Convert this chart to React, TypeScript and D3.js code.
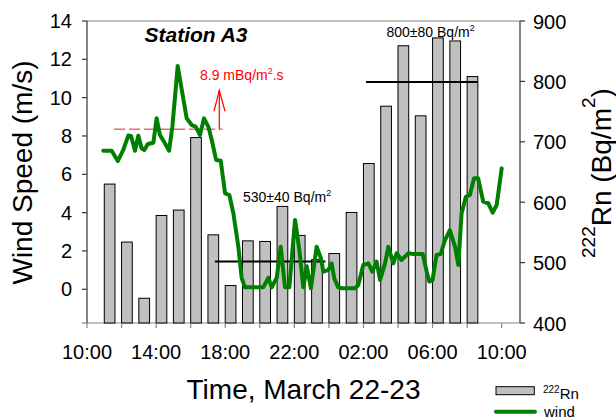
import React from "react";
import * as d3 from "d3";

// ---- data ----
const rnHours = [1, 2, 3, 4, 5, 6, 7, 8, 9, 10, 11, 12, 13, 14, 15, 16, 17, 18, 19, 20, 21, 22];
const rnValues = [630, 534, 441, 578, 587, 707, 546, 462, 536, 535, 593, 545, 505, 515, 583, 664, 759, 859, 743, 872, 867, 808];

const windHours = [
  0.94, 1.43, 1.78, 2.1, 2.39, 2.55, 2.78, 2.97, 3.16, 3.32, 3.51, 3.7, 3.84, 4.03, 4.22, 4.51, 4.75, 4.94,
  5.25, 5.52, 5.77, 6.06, 6.29, 6.54, 6.77, 7.02, 7.22, 7.47, 7.74, 7.99, 8.24, 8.47, 8.76, 8.95, 9.14,
  9.91, 10.2, 10.5, 10.69, 10.98, 11.21, 11.46, 11.71, 12.04, 12.29, 12.52, 12.72, 12.96, 13.29, 13.54,
  13.68, 13.96, 14.16, 14.31, 14.54, 14.78, 15.51, 15.7, 15.99, 16.28, 16.51, 16.76, 16.96, 17.25, 17.44,
  17.73, 17.92, 18.21, 18.6, 18.89, 19.43, 19.66, 19.81, 20.0, 20.23, 20.47, 20.72, 21.0, 21.3, 21.49,
  21.68, 21.93, 22.16, 22.4, 22.64, 22.93, 23.22, 23.48, 23.71, 24.0,
];
const windSpeed = [
  7.23, 7.23, 6.69, 7.27, 8.02, 8.0, 7.23, 8.02, 7.36, 7.27, 7.57, 7.62, 7.65, 8.92, 8.05, 7.62, 7.23, 8.48,
  11.65, 10.23, 8.92, 8.57, 8.49, 8.05, 8.92, 8.49, 7.79, 6.75, 6.71, 5.01, 4.92, 3.97, 2.22, 0.6, 0.1,
  0.1, 0.1, 0.6, 0.1, 0.6, 2.22, 0.1, 0.1, 3.62, 2.05, 0.1, 1.2, 0.05, 2.22, 1.62,
  0.92, 1.0, 1.35, 0.57, 0.1, 0.05, 0.05, 0.22, 1.27, 1.35, 0.92, 1.44, 0.49, 1.35, 2.22,
  1.35, 1.88, 1.53, 1.88, 1.84, 1.84, 0.92, 0.4, 0.49, 1.79, 1.84, 2.57, 3.09, 2.22, 1.27,
  3.97, 4.83, 4.92, 5.79, 5.79, 4.57, 4.49, 4.0, 4.4, 6.31,
];

const xTickHours = [0, 4, 8, 12, 16, 20, 24];
const xTickLabels = ["10:00", "14:00", "18:00", "22:00", "02:00", "06:00", "10:00"];
const xMinorHours = [0, 2, 4, 6, 8, 10, 12, 14, 16, 18, 20, 22, 24];
const windTicks = [0, 2, 4, 6, 8, 10, 12, 14];
const rnTicks = [400, 500, 600, 700, 800, 900];

const baseline530 = { from: 7.4, to: 13.8, value: 502 };
const baseline800 = { from: 16.15, to: 22.6, value: 799 };
const fluxLevel = { from: 1.57, to: 7.84, value: 8.35 };

const FONT = "'Liberation Sans', Arial, Helvetica, sans-serif";

export default function App() {
  const W = 616, H = 418;
  const left = 87, right = 520, top = 21, bottom = 323;
  const x = d3.scaleLinear().domain([0, 25.06]).range([left, right]);
  const yW = d3.scaleLinear().domain([-1.76, 14]).range([bottom, top]);
  const yR = d3.scaleLinear().domain([400, 900]).range([bottom, top]);
  const barW = x(0.62) - x(0);

  const line = d3
    .line<number>()
    .x((_, i) => x(windHours[i]))
    .y((d) => yW(d))
    .curve(d3.curveLinear);

  const axisColor = "#333";
  const frameColor = "#888";

  return (
    <svg width={W} height={H} style={{ display: "block", position: "absolute", left: 0, top: 0 }} fontFamily={FONT}>
      <rect x={0} y={0} width={W} height={H} fill="#fff" />
      {/* frame top / bottom */}
      <line x1={left} x2={right} y1={top} y2={top} stroke={frameColor} strokeWidth={1.2} />
      <line x1={left} x2={right} y1={bottom} y2={bottom} stroke={frameColor} strokeWidth={1.2} />

      {/* bars */}
      {rnHours.map((h, i) => (
        <rect
          key={"b" + i}
          x={x(h)}
          y={yR(rnValues[i])}
          width={barW}
          height={bottom - yR(rnValues[i])}
          fill="#c0c0c0"
          stroke="#000"
          strokeWidth={1}
        />
      ))}

      {/* reference lines */}
      <line x1={x(baseline530.from)} x2={x(baseline530.to)} y1={yR(baseline530.value)} y2={yR(baseline530.value)} stroke="#000" strokeWidth={2} />
      <line x1={x(baseline800.from)} x2={x(baseline800.to)} y1={yR(baseline800.value)} y2={yR(baseline800.value)} stroke="#000" strokeWidth={2} />
      <line x1={x(fluxLevel.from)} x2={x(fluxLevel.to)} y1={yW(fluxLevel.value)} y2={yW(fluxLevel.value)} stroke="#f26b6b" strokeWidth={1.5} strokeDasharray="11,4" />

      {/* wind line */}
      <path d={line(windSpeed) || ""} fill="none" stroke="#008000" strokeWidth={4} strokeLinejoin="round" strokeLinecap="round" />

      {/* red arrow */}
      <line x1={219.3} x2={219.3} y1={yW(fluxLevel.value)} y2={yW(fluxLevel.value) - 39} stroke="#ff0000" strokeWidth={1.2} />
      <polyline
        points={`${214},${yW(fluxLevel.value) - 18} ${219.3},${yW(fluxLevel.value) - 39} ${225},${yW(fluxLevel.value) - 18}`}
        fill="none"
        stroke="#ff0000"
        strokeWidth={1.2}
      />
      <text x={200} y={80} fontSize={14} fill="#ff0000">
        8.9 mBq/m<tspan fontSize={9} dy={-6}>2</tspan>
        <tspan dy={6}>.s</tspan>
      </text>

      <text x={243} y={201.5} fontSize={14} fill="#000">
        530±40 Bq/m<tspan fontSize={9} dy={-6}>2</tspan>
      </text>
      <text x={386.5} y={36.5} fontSize={14} fill="#000">
        800±80 Bq/m<tspan fontSize={9} dy={-6}>2</tspan>
      </text>

      <text x={196} y={41.5} fontSize={21} fontWeight="bold" fontStyle="italic" textAnchor="middle">
        Station A3
      </text>

      {/* left axis */}
      <line x1={left} x2={left} y1={top} y2={bottom} stroke={axisColor} strokeWidth={1.2} />
      {windTicks.map((t) => (
        <g key={"wl" + t}>
          <line x1={left - 5} x2={left} y1={yW(t)} y2={yW(t)} stroke={axisColor} strokeWidth={1.2} />
          <text x={72} y={yW(t) + 7} fontSize={20} textAnchor="end">
            {t}
          </text>
        </g>
      ))}
      <line x1={left - 5} x2={left} y1={bottom} y2={bottom} stroke={frameColor} strokeWidth={1.2} />

      {/* right axis */}
      <line x1={right} x2={right} y1={top} y2={bottom} stroke={axisColor} strokeWidth={1.2} />
      {rnTicks.map((t) => (
        <g key={"rl" + t}>
          <line x1={right} x2={right + 5} y1={yR(t)} y2={yR(t)} stroke={axisColor} strokeWidth={1.2} />
          <text x={533} y={yR(t) + 7.5} fontSize={20}>
            {t}
          </text>
        </g>
      ))}

      {/* bottom axis */}
      {xMinorHours.map((h) => (
        <line key={"xm" + h} x1={x(h)} x2={x(h)} y1={bottom} y2={bottom + 5} stroke={frameColor} strokeWidth={1.2} />
      ))}
      {xTickHours.map((h, i) => (
        <text key={"xl" + h} x={x(h)} y={359} fontSize={20} textAnchor="middle">
          {xTickLabels[i]}
        </text>
      ))}

      {/* axis titles */}
      <text x={303.5} y={399} fontSize={28} textAnchor="middle">
        Time, March 22-23
      </text>
      <text transform="translate(32,172.5) rotate(-90)" fontSize={28} textAnchor="middle">
        Wind Speed (m/s)
      </text>
      <text transform="translate(611,258) rotate(-90)" fontSize={28}>
        <tspan fontSize={19} dy={-16}>222</tspan>
        <tspan dy={16}>Rn (Bq/m</tspan>
        <tspan fontSize={19} dy={-16}>2</tspan>
        <tspan dy={16}>)</tspan>
      </text>

      {/* legend */}
      <rect x={496} y={386.7} width={38.3} height={8} fill="#c0c0c0" stroke="#000" strokeWidth={1} />
      <text x={543} y={398.5} fontSize={15}>
        <tspan fontSize={10} dy={-6}>222</tspan>
        <tspan dy={6}>Rn</tspan>
      </text>
      <line x1={496} x2={535} y1={411.7} y2={411.7} stroke="#008000" strokeWidth={4} strokeLinecap="round" />
      <text x={544} y={417} fontSize={15}>
        wind
      </text>
    </svg>
  );
}
